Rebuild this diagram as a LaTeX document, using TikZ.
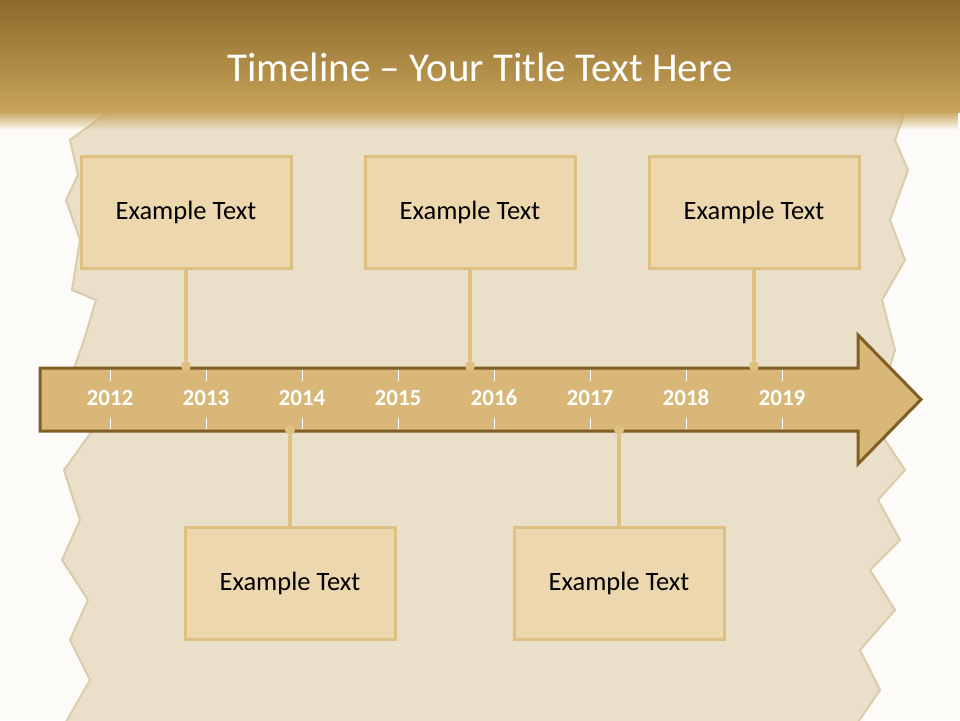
\documentclass[tikz,border=0pt]{standalone}
\usepackage{fontspec}
\setmainfont{Carlito}
\usetikzlibrary{positioning,fadings}
\definecolor{barTop}{HTML}{8C6A2B}
\definecolor{barBottom}{HTML}{C8A45A}
\definecolor{paper}{HTML}{FCFBF7}
\definecolor{parchment}{HTML}{EADFC8}
\definecolor{parchEdge}{HTML}{DCCBAB}
\definecolor{arrowFill}{HTML}{D9B779}
\definecolor{arrowLine}{HTML}{7F5F23}
\definecolor{boxFill}{HTML}{EDD7AE}
\definecolor{boxLine}{HTML}{DEC182}

\begin{document}
\begin{tikzpicture}[x=1pt,y=-1pt,node distance=154pt,on grid,
    event/.style={draw=boxLine,line width=3pt,fill=boxFill,minimum width=210pt,
      minimum height=112pt,font=\fontsize{26.5}{30}\selectfont},
    pin/.style={circle,fill=boxLine,inner sep=0pt,minimum size=10pt},
    link/.style={draw=boxLine,line width=4pt},
    year/.style={text=white,anchor=base,font=\bfseries\fontsize{23}{27}\selectfont},
    tick/.style={draw=white,line width=1pt}]
  \useasboundingbox (0,0) rectangle (960,720);
  % background and parchment
  \fill[paper] (0,0) rectangle (960,720);
  \fill[parchment,draw=parchEdge,line width=2pt]
    (108,112) -- (70,140) -- (78,175) -- (66,200) -- (80,240) -- (72,290) -- (96,300)
    -- (84,340) -- (70,380) -- (100,420) -- (64,470) -- (80,520) -- (62,560)
    -- (88,600) -- (70,640) -- (90,680) -- (66,722) -- (858,722) -- (880,690)
    -- (860,650) -- (895,610) -- (870,570) -- (900,540) -- (878,500) -- (905,470)
    -- (885,440) -- (880,400) -- (895,350) -- (882,300) -- (905,260) -- (890,220)
    -- (908,170) -- (895,140) -- (905,112) -- cycle;
  % title bar
  \shade[top color=barTop,bottom color=barBottom] (0,0) rectangle (960,112);
  \fill[barBottom,path fading=south] (0,111) rectangle (960,130);
  \node[text=white,font=\fontsize{41}{47}\selectfont] (title) at (480,67)
    {Timeline – Your Title Text Here};
  % the arrow
  \draw[arrowLine,fill=arrowFill,line width=3pt,line join=miter]
    (40,368) -- (858,368) -- (858,335) -- (921,399.5) -- (858,464)
    -- (858,431) -- (40,431) -- cycle;
  \foreach \yr [count=\i from 0] in {2012,...,2019} {
    \node[year] (y\yr) at (110+96*\i,405) {\yr};
    \draw[tick] (110+96*\i,370) -- (110+96*\i,381) (110+96*\i,418) -- (110+96*\i,429);
  }
  % events
  \node[event] (b1) at (186,212) {Example Text};
  \node[event] (b2) at (470,212) {Example Text};
  \node[event] (b3) at (754,212) {Example Text};
  \node[pin] (d1) [below=154pt of b1] {};
  \node[pin] (d2) [below=154pt of b2] {};
  \node[pin] (d3) [below=154pt of b3] {};
  \node[pin] (d4) at (290,430) {};
  \node[pin] (d5) at (619,430) {};
  \node[event] (b4) [below=153pt of d4] {Example Text};
  \node[event] (b5) [below=153pt of d5] {Example Text};
  \path[link]
    (b1) -- (d1)
    (b2) -- (d2)
    (b3) -- (d3)
    (d4) -- (b4)
    (d5) -- (b5)
    ; %end path
\end{tikzpicture}
\end{document}
